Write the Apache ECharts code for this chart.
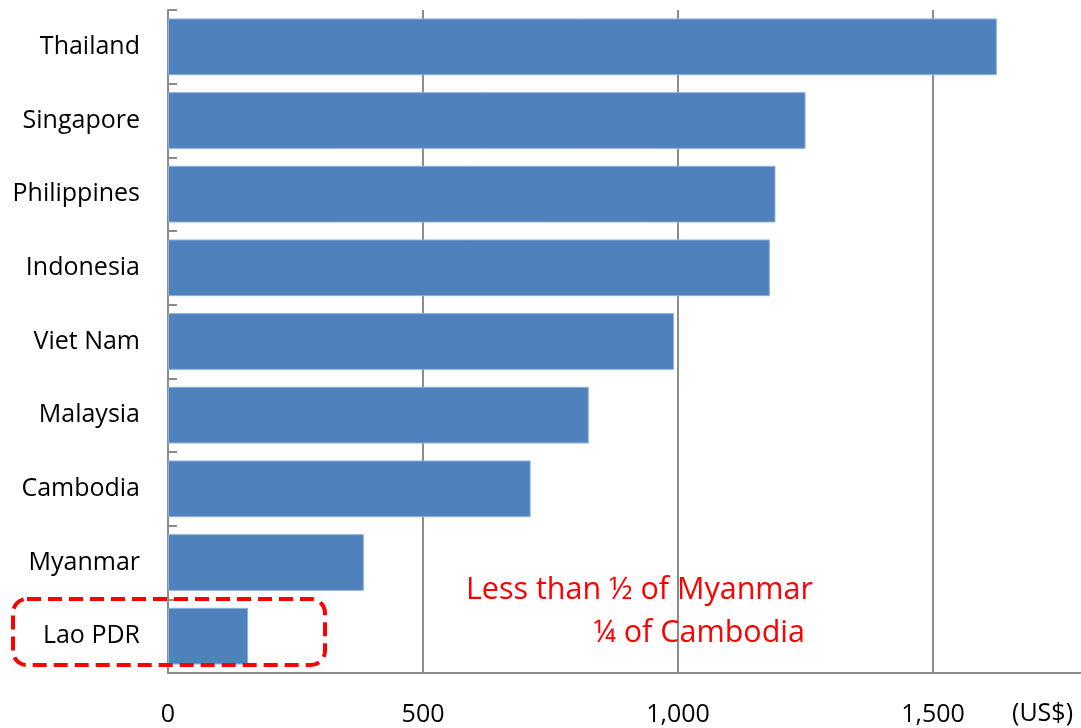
<!DOCTYPE html>
<html>
<head>
<meta charset="utf-8">
<script src="https://cdn.jsdelivr.net/npm/echarts@6/dist/echarts.min.js"></script>
<style>
  html, body { margin: 0; padding: 0; background: #fff; }
  #chart { width: 1081px; height: 728px; }
</style>
</head>
<body>
<div id="chart"></div>
<script>
// Countries, top to bottom
const countries = ['Thailand', 'Singapore', 'Philippines', 'Indonesia', 'Viet Nam', 'Malaysia', 'Cambodia', 'Myanmar', 'Lao PDR'];
// Values in US$
const values = [1625, 1250, 1191, 1180, 992, 825, 711, 384, 157];
// Value axis ticks
const tickValues = [0, 500, 1000, 1500];
const unitLabel = '(US$)';
const noteLines = ['Less than \u00BD of Myanmar', '\u00BC of Cambodia'];

const FONT = '"Open Sans", "Noto Sans", sans-serif';
const chart = echarts.init(document.getElementById('chart'), null, { renderer: 'canvas' });

chart.setOption({
  animation: false,
  backgroundColor: '#ffffff',
  grid: { left: 168, right: 0, top: 10, bottom: 55, containLabel: false },
  xAxis: {
    type: 'value',
    min: 0,
    max: 1790,
    interval: 500,
    axisLine: { show: true, lineStyle: { color: '#8c8c8c', width: 2 } },
    axisTick: { show: false },
    splitLine: { show: true, showMinLine: false, showMaxLine: false, lineStyle: { color: '#8c8c8c', width: 2 } },
    axisLabel: {
      margin: 29,
      fontFamily: FONT,
      fontSize: 25,
      color: '#000',
      showMaxLabel: false,
      formatter: v => tickValues.indexOf(v) >= 0 ? v.toLocaleString('en-US') : ''
    }
  },
  yAxis: {
    type: 'category',
    inverse: true,
    data: countries,
    axisLine: { show: true, lineStyle: { color: '#8c8c8c', width: 2 } },
    axisTick: { show: true, inside: true, length: 9, lineStyle: { color: '#8c8c8c', width: 2 } },
    axisLabel: { margin: 28, fontFamily: FONT, fontSize: 25, color: '#000', padding: [4, 0, 0, 0] },
    splitLine: { show: false }
  },
  series: [{
    type: 'bar',
    data: values,
    barCategoryGap: '23%',
    itemStyle: { color: '#4F81BD', borderColor: '#8fb0db', borderWidth: 1 }
  }],
  graphic: [
    {
      type: 'rect',
      shape: { x: 13, y: 599, width: 312, height: 66, r: 14 },
      style: { fill: 'none', stroke: '#ff0000', lineWidth: 4, lineDash: [14, 7] },
      z: 10
    },
    {
      type: 'text',
      x: 813, y: 590,
      style: { text: noteLines[0], fill: '#ff0000', font: '30.5px ' + FONT, textAlign: 'right', textVerticalAlign: 'middle' },
      z: 10
    },
    {
      type: 'text',
      x: 805, y: 633,
      style: { text: noteLines[1], fill: '#ff0000', font: '30.5px ' + FONT, textAlign: 'right', textVerticalAlign: 'middle' },
      z: 10
    },
    {
      type: 'text',
      x: 1073, y: 714,
      style: { text: unitLabel, fill: '#000', font: '25px ' + FONT, textAlign: 'right', textVerticalAlign: 'middle' },
      z: 10
    }
  ]
});
</script>
</body>
</html>
